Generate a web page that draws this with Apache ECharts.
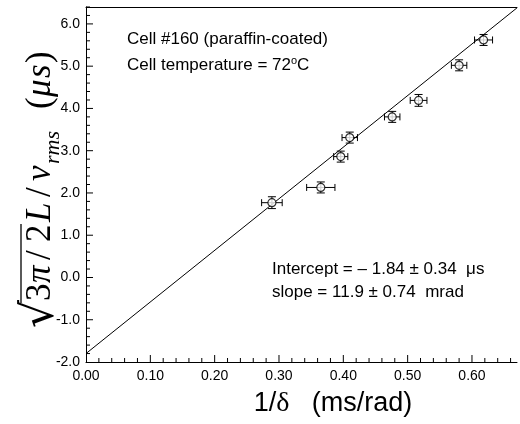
<!DOCTYPE html>
<html>
<head>
<meta charset="utf-8">
<script src="https://cdn.jsdelivr.net/npm/echarts@6/dist/echarts.min.js"></script>
<style>
  html, body { margin: 0; padding: 0; background: #fff; }
  #chart { width: 520px; height: 424px; }
</style>
</head>
<body>
<div id="chart"></div>
<script>
// values
const xVals = [0.289, 0.365, 0.396, 0.410, 0.476, 0.517, 0.580, 0.618];
const yVals = [1.77, 2.13, 2.86, 3.31, 3.80, 4.19, 5.02, 5.62];
const xErr = [0.016, 0.022, 0.011, 0.012, 0.012, 0.013, 0.012, 0.014];
const yErr = [0.14, 0.13, 0.13, 0.13, 0.13, 0.14, 0.13, 0.13];
const fitX = [0, 0.67];
const fitY = [-1.80, 6.38];
const xTickLabels = ["0.00", "0.10", "0.20", "0.30", "0.40", "0.50", "0.60"];
const yTickLabels = ["-2.0", "-1.0", "0.0", "1.0", "2.0", "3.0", "4.0", "5.0", "6.0"];

const X_MIN = 0, X_MAX = 0.67, Y_MIN = -2, Y_MAX = 6.4;

const SANS = "Liberation Sans";
const SERIF = "Liberation Serif";

const points = xVals.map((x, i) => [x, yVals[i], xErr[i], yErr[i]]);
const fitLine = fitX.map((x, i) => [x, fitY[i]]);

// tick positions: major every 0.1 / 1, minor every 0.02 / 0.2
const xMajor = [], xMinor = [], yMajor = [], yMinor = [];
for (let k = 1; k <= 33; k++) (k % 5 ? xMinor : xMajor).push(+(k * 0.02).toFixed(2));
for (let k = 1; k <= 42; k++) (k % 5 ? yMinor : yMajor).push(+(Y_MIN + k * 0.2).toFixed(1));

function tickLabel(list, start, step) {
  return function (v) {
    const k = Math.round((v - start) / step);
    if (Math.abs(v - (start + k * step)) > 1e-6) return "";
    return list[k] || "";
  };
}

// y axis title: each piece has its place along the text (at), then the
// whole group is turned on its side so it reads bottom to top
const titleParts = [
  { t: "\u221A", at: 0, size: 44, fam: "DejaVu Serif", dy: 4 },
  { t: "3", at: 27, size: 35 },
  { t: "\u03C0", at: 45, size: 35, italic: true },
  { t: "/", at: 68, size: 35 },
  { t: "2", at: 86, size: 35 },
  { t: "L", at: 106, size: 35, italic: true },
  { t: "/", at: 131, size: 35 },
  { t: "v", at: 147, size: 35, italic: true },
  { t: "rms", at: 164, size: 22, italic: true, dy: 8 },
  { t: "(", at: 219, size: 35 },
  { t: "\u03BC", at: 231, size: 35, italic: true },
  { t: "s", at: 250, size: 35, italic: true },
  { t: ")", at: 265, size: 35 }
];

function buildTitle() {
  const children = titleParts.map(p => ({
    type: "text",
    x: p.at,
    y: -0.32 * p.size + (p.dy || 0),
    style: {
      text: p.t,
      font: (p.italic ? "italic " : "") + p.size + "px \"" + (p.fam || SERIF) + "\"",
      fill: "#000", align: "left", verticalAlign: "middle"
    }
  }));
  children.push({
    type: "line",
    shape: { x1: 25, y1: -31, x2: 104, y2: -31 },
    style: { stroke: "#000", lineWidth: 1.3 }
  });
  return { type: "group", x: 52, y: 328, rotation: Math.PI / 2, children: children };
}

// ticks drawn as thin rectangles sitting on the axis, pointing inwards
function tickSeries(vals, isY, len) {
  return {
    type: "scatter", silent: true, clip: false, z: 6,
    data: vals.map(v => (isY ? [X_MIN, v] : [v, Y_MIN])),
    symbol: "rect",
    symbolSize: isY ? [len, 1] : [1, len],
    symbolOffset: isY ? [len / 2, 0] : [0, -len / 2],
    itemStyle: { color: "#000", opacity: 1 },
    emphasis: { disabled: true }
  };
}

const chart = echarts.init(document.getElementById("chart"), null, { renderer: "canvas" });

const axisText = { color: "#000", fontFamily: SANS, fontSize: 14 };

chart.setOption({
  animation: false,
  backgroundColor: "#fff",
  grid: { left: 86, right: 1, top: 7, bottom: 62 },
  xAxis: [
    {
      type: "value", min: X_MIN, max: X_MAX, interval: 0.1, position: "bottom",
      axisLine: { show: true, onZero: false, lineStyle: { color: "#000", width: 1 } },
      axisTick: { show: false },
      axisLabel: Object.assign({ margin: 7, formatter: tickLabel(xTickLabels, 0, 0.1) }, axisText),
      splitLine: { show: false }
    },
    {
      type: "value", min: X_MIN, max: X_MAX, position: "top",
      axisLine: { show: true, onZero: false, lineStyle: { color: "#000", width: 1 } },
      axisTick: { show: false }, axisLabel: { show: false }, splitLine: { show: false }
    }
  ],
  yAxis: [
    {
      type: "value", min: Y_MIN, max: Y_MAX, interval: 1, position: "left",
      axisLine: { show: true, onZero: false, lineStyle: { color: "#000", width: 1 } },
      axisTick: { show: false },
      axisLabel: Object.assign({ margin: 6, formatter: tickLabel(yTickLabels, -2, 1) }, axisText),
      splitLine: { show: false }
    }
  ],
  series: [
    tickSeries(xMajor, false, 7),
    tickSeries(xMinor, false, 4),
    tickSeries(yMajor, true, 7),
    tickSeries(yMinor, true, 4),
    {
      type: "line", data: fitLine, showSymbol: false, z: 1,
      lineStyle: { color: "#000", width: 1 }
    },
    {
      type: "custom", data: points, z: 2,
      renderItem: function (params, api) {
        const x = api.value(0), y = api.value(1), ex = api.value(2), ey = api.value(3);
        const l = api.coord([x - ex, y]), r = api.coord([x + ex, y]);
        const t = api.coord([x, y + ey]), b = api.coord([x, y - ey]);
        const st = { stroke: "#000", lineWidth: 1 };
        const seg = (x1, y1, x2, y2) => ({ type: "line", shape: { x1, y1, x2, y2 }, style: st });
        return {
          type: "group",
          children: [
            seg(l[0], l[1], r[0], r[1]),
            seg(t[0], t[1], b[0], b[1]),
            seg(l[0], l[1] - 3.5, l[0], l[1] + 3.5),
            seg(r[0], r[1] - 3.5, r[0], r[1] + 3.5),
            seg(t[0] - 4, t[1], t[0] + 4, t[1]),
            seg(b[0] - 4, b[1], b[0] + 4, b[1])
          ]
        };
      }
    },
    {
      type: "scatter", data: points.map(p => [p[0], p[1]]), z: 3,
      symbol: "circle", symbolSize: 8,
      itemStyle: { color: "#fff", borderColor: "#000", borderWidth: 1.2 }
    }
  ],
  graphic: [
    buildTitle(),
    {
      type: "text", left: 127, top: 31,
      style: { text: "Cell #160 (paraffin-coated)", font: "17px \"" + SANS + "\"", fill: "#000" }
    },
    {
      type: "text", left: 127, top: 55,
      style: {
        text: "Cell temperature = 72{sup|o}C",
        font: "17px \"" + SANS + "\"", fill: "#000",
        rich: { sup: { fontSize: 11, fontFamily: SANS, verticalAlign: "top", padding: [0, 0, 9, 0] } }
      }
    },
    {
      type: "text", left: 272, top: 261,
      style: { text: "Intercept = \u2013 1.84 \u00B1 0.34  \u03BCs", font: "17px \"" + SANS + "\"", fill: "#000" }
    },
    {
      type: "text", left: 272, top: 284,
      style: { text: "slope = 11.9 \u00B1 0.74  mrad", font: "17px \"" + SANS + "\"", fill: "#000" }
    },
    {
      type: "text", x: 333, y: 404,
      style: {
        text: "1/{d|\u03B4}   (ms/rad)", font: "27px \"" + SANS + "\"", fill: "#000",
        align: "center", verticalAlign: "middle",
        rich: { d: { fontFamily: SERIF, fontSize: 28 } }
      }
    }
  ]
});
</script>
</body>
</html>
